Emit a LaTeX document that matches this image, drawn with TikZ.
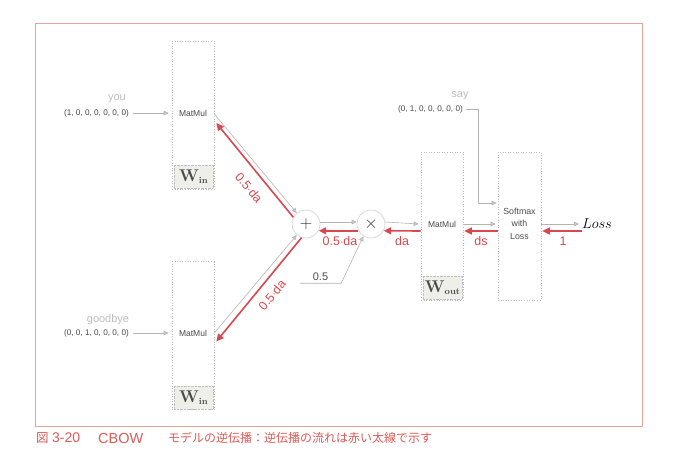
\documentclass[tikz,border=0pt]{standalone}
\usepackage{fontspec}
\usetikzlibrary{arrows.meta,calc}
\newfontfamily\labf{Liberation Sans}
\newfontfamily\jpf{Noto Sans CJK JP}
\definecolor{redc}{HTML}{D9474F}
\definecolor{capc}{HTML}{DC5A55}
\definecolor{framec}{HTML}{E8A49A}
\definecolor{grayline}{HTML}{B4B4B4}
\definecolor{lightt}{HTML}{BDBDBD}
\definecolor{darkt}{HTML}{4A4A4A}
\definecolor{wfill}{HTML}{EFEFEA}
\tikzset{
  layerbox/.style={draw=gray!55, dotted, line width=0.6pt, minimum width=42pt, minimum height=148pt, inner sep=0pt},
  wlab/.style={draw=gray!50, densely dotted, fill=wfill, minimum width=39pt, minimum height=23pt, inner sep=0pt, text=darkt},
  opnode/.style={circle, draw=gray!30, line width=0.8pt, fill=white, minimum size=28pt, inner sep=0pt, text=black!80, font=\fontsize{18}{19}\selectfont},
  garr/.style={draw=grayline, line width=0.6pt, -{Triangle[length=5pt,width=4.5pt,fill=grayline!70]}},
  rarr/.style={draw=redc, line width=1.6pt, -{Triangle[length=7.5pt,width=7pt]}},
  rlab/.style={text=redc, font=\labf\fontsize{12.5}{13}\selectfont, inner sep=0pt},
  mmtext/.style={text=darkt, font=\labf\fontsize{8.5}{9}\selectfont, inner sep=0pt},
  vectext/.style={text=darkt, font=\labf\fontsize{8.2}{9}\selectfont, inner sep=0pt},
  wordtext/.style={text=lightt, font=\labf\fontsize{11}{12}\selectfont, inner sep=0pt},
  captext/.style={text=capc, inner sep=0pt, anchor=west},
}
\begin{document}
\begin{tikzpicture}[x=1pt,y=-1pt]
\useasboundingbox (0,0) rectangle (675,467);
% frame
\draw[framec, line width=0.8pt] (35,23) rectangle (642,426);
\node[captext, font=\jpf\fontsize{12.5}{13}\selectfont] (cap1) at (36,438) {図};
\node[captext, font=\labf\fontsize{14}{15}\selectfont] (cap2) at (52,438) {3-20};
\node[captext, font=\labf\fontsize{14.5}{15}\selectfont] (cap3) at (98,438) {CBOW};
\node[captext, font=\jpf\fontsize{12}{13}\selectfont] (cap4) at (168,438) {モデルの逆伝播：逆伝播の流れは赤い太線で示す};

% boxes
\node[layerbox] (winA) at (193,115) {};
\node[mmtext] (mmA) at (193,113) {MatMul};
\node[wlab] (wA) at (193.5,176.5) {\textbf{\fontsize{17}{18}\selectfont W}\raisebox{-2pt}{\textbf{\fontsize{9}{10}\selectfont in}}};

\node[layerbox] (winB) at (193,335.5) {};
\node[mmtext] (mmB) at (193,333) {MatMul};
\node[wlab] (wB) at (193.5,397.5) {\textbf{\fontsize{17}{18}\selectfont W}\raisebox{-2pt}{\textbf{\fontsize{9}{10}\selectfont in}}};

\node[layerbox] (wout) at (442,226) {};
\node[mmtext] (mmC) at (442,224) {MatMul};
\node[wlab] (wC) at (442.5,287.5) {\textbf{\fontsize{17}{18}\selectfont W}\raisebox{-2pt}{\textbf{\fontsize{9}{10}\selectfont out}}};

\node[layerbox, minimum width=43pt] (soft) at (519.5,226) {};
\node[mmtext, align=center, font=\labf\fontsize{8.8}{12.5}\selectfont] (smt) at (519.5,223.5) {Softmax\\with\\Loss};

\node[opnode] (plus) at (306,224) {$+$};
\node[opnode] (times) at (371,224) {$\times$};

\node[inner sep=0pt, font=\fontsize{14}{15}\selectfont, anchor=west] (loss) at (582,224) {$Loss$};

% inputs
\node[wordtext] (you) at (117,99) {you};
\node[vectext, anchor=east] (youv) at (129,113) {(1, 0, 0, 0, 0, 0, 0)};
\node[wordtext] (good) at (108,320) {goodbye};
\node[vectext, anchor=east] (goodv) at (129,333) {(0, 0, 1, 0, 0, 0, 0)};
\node[wordtext] (say) at (460,96) {say};
\node[vectext, anchor=east] (sayv) at (463,109) {(0, 1, 0, 0, 0, 0, 0)};

\draw[garr] ([xshift=4pt]youv.east) -- ([xshift=-3pt,yshift=2pt]winA.west);
\draw[garr] ([xshift=4pt]goodv.east) -- ([xshift=-3pt,yshift=2.5pt]winB.west);
\draw[garr] ([xshift=3pt]sayv.east) -- ++(12,0) |- ([xshift=-1pt,yshift=23pt]soft.west);

% 0.5 input
\node[inner sep=0pt, minimum width=41pt, minimum height=12pt, text=darkt, font=\labf\fontsize{11}{12}\selectfont] (half) at (320.5,277) {0.5};
\draw[garr] (half.south west) -- (half.south east) -- (times.-122);

% forward gray arrows
\draw[garr] ([yshift=1pt]winA.east) -- (plus.130);
\draw[garr] ([yshift=2.5pt]winB.east) -- (plus.-130);
\draw[garr] (plus.8) -- (times.172);
\draw[garr] (times.8) -- ([xshift=-2pt,yshift=2pt]wout.west);
\draw[garr] ([yshift=2pt]wout.east) -- ([xshift=-2pt,yshift=2pt]soft.west);
\draw[garr] ([yshift=2pt]soft.east) -- ([xshift=-3pt]loss.west);

% backward red arrows
\draw[rarr] ([yshift=-7pt]loss.west) -- ([xshift=1pt,yshift=-5pt]soft.east);
\draw[rarr] ([yshift=-5pt]soft.west) -- ([xshift=1pt,yshift=-5pt]wout.east);
\draw[rarr] ([yshift=-5pt]wout.west) -- (times.-28);
\draw[rarr] (times.208) -- (plus.-28);
\draw[rarr] (plus.152) -- ([xshift=2pt,yshift=-8pt]winA.east);
\draw[rarr] (plus.-108) -- ([xshift=2pt,yshift=-6pt]winB.east);

% red labels
\node[rlab] (l1) at (563,241) {1};
\node[rlab] (lds) at (481,241) {ds};
\node[rlab] (lda) at (402,241) {da};
\node[rlab] (lhalf) at (340,241) {0.5$\cdot$da};
\node[rlab, rotate=-50] (ltop) at (249,188) {0.5$\cdot$da};
\node[rlab, rotate=50] (lbot) at (272,295) {0.5$\cdot$da};
\end{tikzpicture}
\end{document}
